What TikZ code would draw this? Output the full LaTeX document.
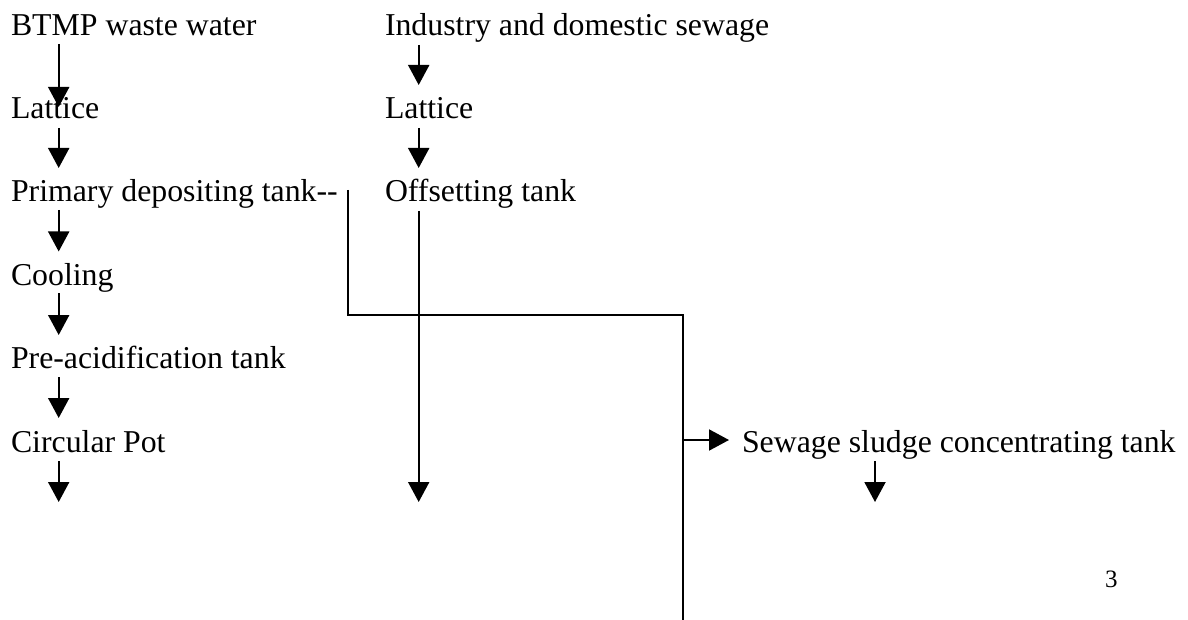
\documentclass[tikz,border=0pt]{standalone}
\usepackage{fontspec}
\setmainfont{Liberation Serif}
\usetikzlibrary{arrows.meta,calc}
\tikzset{
  lbl/.style={anchor=base west, inner sep=0pt, outer sep=0pt, font=\fontsize{31.8}{38}\selectfont},
  pg/.style={anchor=base west, inner sep=0pt, outer sep=0pt, font=\fontsize{25}{30}\selectfont},
  arr/.style={line width=2pt, -{Triangle[length=20pt,width=21pt]}},
  ln/.style={line width=2pt},
}
\begin{document}
\begin{tikzpicture}[x=1pt,y=-1pt]
\useasboundingbox (0,0) rectangle (1188,620);
% left column
\node[lbl] (btmp) at (11,36) {BTMP waste water};
\node[lbl] (lat1) at (11,119) {Lattice};
\node[lbl] (prim) at (11,202) {Primary depositing tank-{}-};
\node[lbl] (cool) at (11,285) {Cooling};
\node[lbl] (prea) at (11,368) {Pre-acidification tank};
\node[lbl] (circ) at (11,452) {Circular Pot};
% right column
\node[lbl] (ind) at (385,36) {Industry and domestic sewage};
\node[lbl] (lat2) at (385,119) {Lattice};
\node[lbl] (offs) at (385,202) {Offsetting tank};
% sludge
\node[lbl] (slud) at (742,452) {Sewage sludge concentrating tank};
\node[pg] (page) at (1105,587) {3};
% column coordinates
\coordinate (cL) at (58.7,0);
\coordinate (cR) at (418.7,0);
\coordinate (cS) at (875,0);
\coordinate (cB) at (347.5,0);
\coordinate (cV) at (683,0);
\coordinate (hz) at (0,315);
\coordinate (bot) at (683,620);
% left arrows
\draw[arr] ($(cL|-btmp.base)+(0,8)$) -- ($(cL|-lat1.base)+(0,-12)$);
\draw[arr] ($(cL|-lat1.base)+(0,9)$) -- ($(cL|-lat1.base)+(0,49)$);
\draw[arr] ($(cL|-prim.base)+(0,8)$) -- ($(cL|-prim.base)+(0,49.5)$);
\draw[arr] ($(cL|-cool.base)+(0,8)$) -- ($(cL|-cool.base)+(0,50)$);
\draw[arr] ($(cL|-prea.base)+(0,9)$) -- ($(cL|-prea.base)+(0,50)$);
\draw[arr] ($(cL|-circ.base)+(0,9)$) -- ($(cL|-circ.base)+(0,50)$);
% right arrows
\draw[arr] ($(cR|-ind.base)+(0,9)$) -- ($(cR|-ind.base)+(0,49)$);
\draw[arr] ($(cR|-lat2.base)+(0,9)$) -- ($(cR|-lat2.base)+(0,49)$);
\draw[arr] ($(cR|-offs.base)+(0,9)$) -- ($(cR|-circ.base)+(0,50)$);
% connector from primary depositing tank
\draw[ln] ($(cB|-prim.base)+(0,-12)$) |- (cV|-hz) -- (bot);
\draw[arr] ($(cV|-slud.base)+(0,-12)$) -- ($(slud.base west)+(-13,-12)$);
% sludge arrow
\draw[arr] ($(cS|-slud.base)+(0,9)$) -- ($(cS|-slud.base)+(0,50)$);
\end{tikzpicture}
\end{document}
